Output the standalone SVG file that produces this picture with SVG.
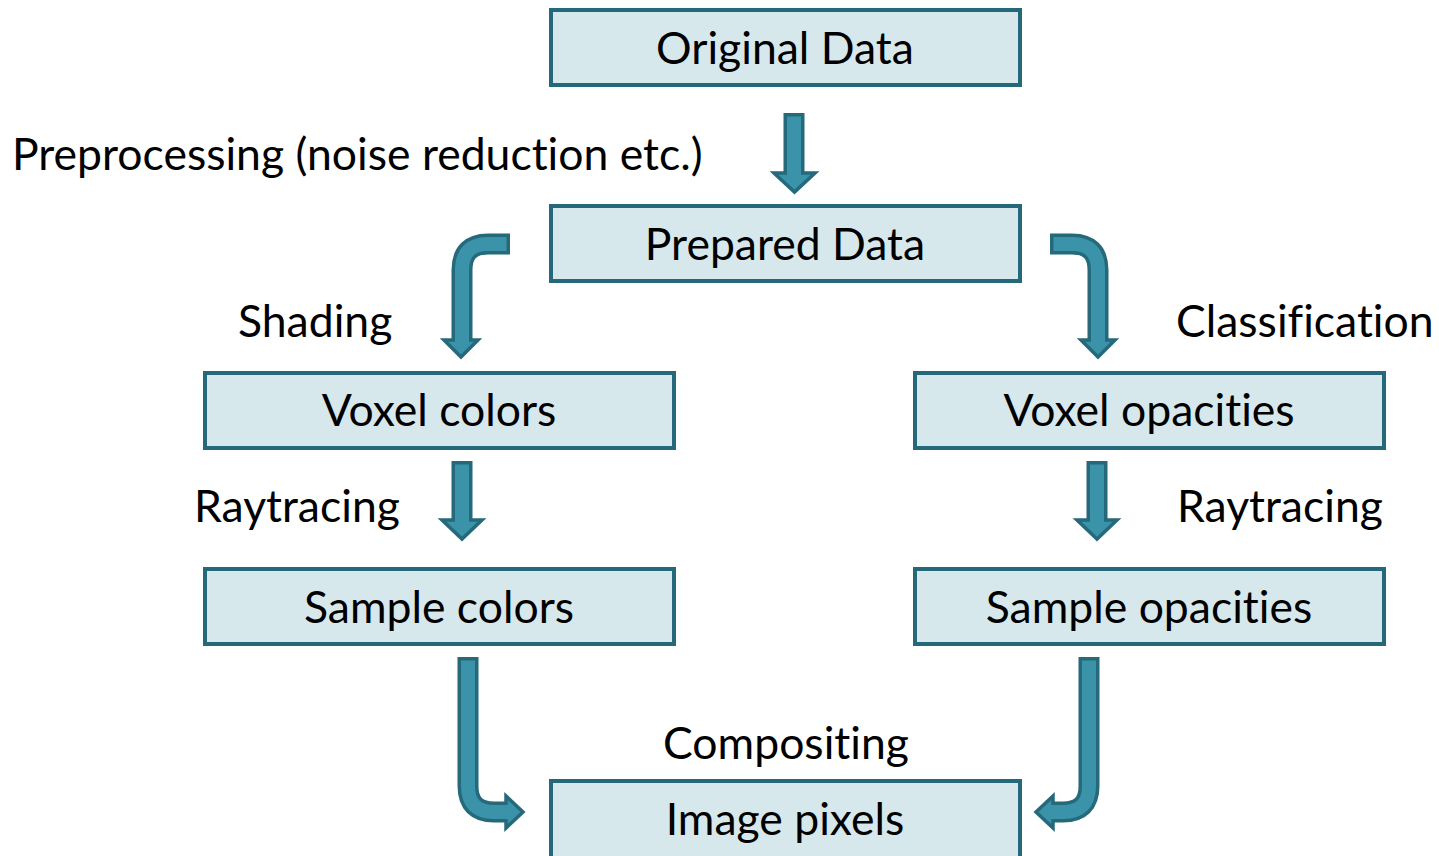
<svg xmlns="http://www.w3.org/2000/svg" width="1439" height="856" viewBox="0 0 1439 856">
  <defs>
    <style>
      .box { fill: #d7e8ed; stroke: #25687a; stroke-width: 4; }
      .t { font-family: Lato, "Open Sans", "Liberation Sans", sans-serif; font-size: 44.5px; fill: #000; font-variant-ligatures: none; }
      .c { text-anchor: middle; }
      .edge { fill: none; stroke: #25697b; stroke-width: 21; stroke-linejoin: round; stroke-linecap: butt; }
      .core { fill: none; stroke: #3a93a8; stroke-width: 14; stroke-linejoin: round; stroke-linecap: butt; }
      .head { fill: #3a93a8; stroke: #25697b; stroke-width: 3.5; stroke-linejoin: miter; }
    </style>
  </defs>

  <rect width="1439" height="856" fill="#ffffff"/>

  <!-- connectors: thick outlined block arrows -->
  <g id="connectors">
    <!-- Original Data -> Prepared Data -->
    <g id="a-pre">
      <path class="edge" d="M794,113 V174"/>
      <polygon class="head" points="774,173 815,173 794.5,192"/>
      <path class="core" d="M794,116.5 V176"/>
    </g>
    <!-- Prepared Data -> Voxel colors -->
    <g id="a-shade">
      <path class="edge" d="M510,244 H488 Q462,244 462,270 V340"/>
      <polygon class="head" points="444,340 478,340 461,357"/>
      <path class="core" d="M506.5,244 H488 Q462,244 462,270 V343"/>
    </g>
    <!-- Prepared Data -> Voxel opacities -->
    <g id="a-class">
      <path class="edge" d="M1050,244 H1072 Q1098,244 1098,270 V340"/>
      <polygon class="head" points="1081,340 1115,340 1098,357"/>
      <path class="core" d="M1053.5,244 H1072 Q1098,244 1098,270 V343"/>
    </g>
    <!-- Voxel colors -> Sample colors -->
    <g id="a-ray-l">
      <path class="edge" d="M462,461 V521"/>
      <polygon class="head" points="442,520 482,520 462,539"/>
      <path class="core" d="M462,464.5 V523"/>
    </g>
    <!-- Voxel opacities -> Sample opacities -->
    <g id="a-ray-r">
      <path class="edge" d="M1097,461 V521"/>
      <polygon class="head" points="1077,520 1117,520 1097,539"/>
      <path class="core" d="M1097,464.5 V523"/>
    </g>
    <!-- Sample colors -> Image pixels -->
    <g id="a-comp-l">
      <path class="edge" d="M468,657 V786 Q468,812 494,812 H506"/>
      <polygon class="head" points="506,796 506,828 523,812"/>
      <path class="core" d="M468,660.5 V786 Q468,812 494,812 H509"/>
    </g>
    <!-- Sample opacities -> Image pixels -->
    <g id="a-comp-r">
      <path class="edge" d="M1089,657 V786 Q1089,812 1063,812 H1053"/>
      <polygon class="head" points="1053,796 1053,828 1036,812"/>
      <path class="core" d="M1089,660.5 V786 Q1089,812 1063,812 H1050"/>
    </g>
  </g>

  <!-- nodes -->
  <g id="n-original">
    <rect class="box" x="551" y="10" width="469" height="75"/>
    <text class="t c" x="785" y="64">Original Data</text>
  </g>
  <g id="n-prepared">
    <rect class="box" x="551" y="206" width="469" height="75"/>
    <text class="t c" x="785" y="260">Prepared Data</text>
  </g>
  <g id="n-voxel-colors">
    <rect class="box" x="205" y="373" width="469" height="75"/>
    <text class="t c" x="439" y="426">Voxel colors</text>
  </g>
  <g id="n-voxel-opacities">
    <rect class="box" x="915" y="373" width="469" height="75"/>
    <text class="t c" x="1149" y="426">Voxel opacities</text>
  </g>
  <g id="n-sample-colors">
    <rect class="box" x="205" y="569" width="469" height="75"/>
    <text class="t c" x="439" y="623">Sample colors</text>
  </g>
  <g id="n-sample-opacities">
    <rect class="box" x="915" y="569" width="469" height="75"/>
    <text class="t c" x="1149" y="623">Sample opacities</text>
  </g>
  <g id="n-image">
    <rect class="box" x="551" y="781" width="469" height="80"/>
    <text class="t c" x="785" y="835">Image pixels</text>
  </g>

  <!-- connector labels -->
  <g id="labels">
    <text class="t" x="12" y="170">Preprocessing (noise reduction etc.)</text>
    <text class="t" x="238" y="337">Shading</text>
    <text class="t" x="1176" y="337">Classification</text>
    <text class="t" x="194" y="522">Raytracing</text>
    <text class="t" x="1177" y="522">Raytracing</text>
    <text class="t c" x="786" y="759">Compositing</text>
  </g>
</svg>
